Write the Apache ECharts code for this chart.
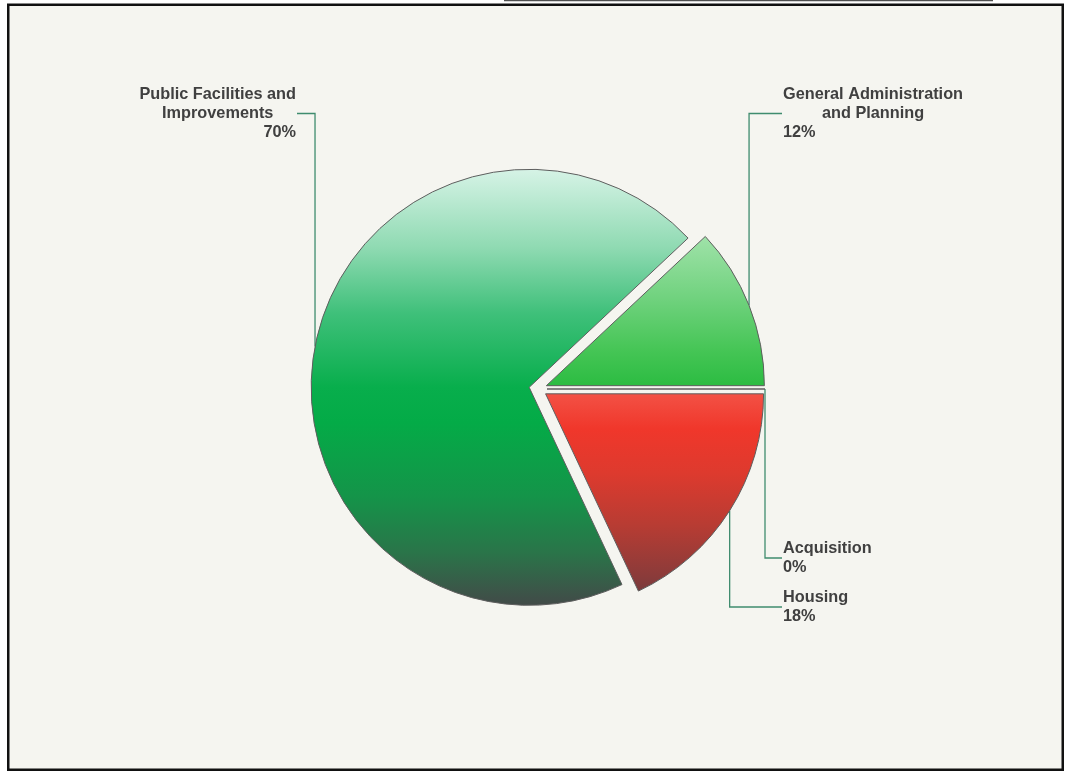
<!DOCTYPE html>
<html>
<head>
<meta charset="utf-8">
<script src="https://cdn.jsdelivr.net/npm/echarts@6/dist/echarts.min.js"></script>
<style>
html,body{margin:0;padding:0;background:#ffffff;}
#c{width:1072px;height:771px;}
</style>
</head>
<body>
<div id="c"></div>
<script>
// ---- data ----
const categories = ['General Administration and Planning', 'Public Facilities and Improvements', 'Housing', 'Acquisition'];
const labelNameLines = [['General Administration', 'and Planning'], ['Public Facilities and', 'Improvements'], ['Housing'], ['Acquisition']];
const values = [12, 70, 18, 0];

// ---- styles ----
const PIE_CX = 538, PIE_CY = 389, PIE_R = 218, EXPLODE = 9;
const gradTop = PIE_CY - PIE_R, gradBottom = PIE_CY + PIE_R;
const sliceStops = [
  [[0, '#c8eecf'], [0.15, '#a2e3ab'], [0.3, '#70d27e'], [0.42, '#45c555'], [0.5, '#2cbc42'], [1, '#2cbc42']],
  [[0, '#d6f3e6'], [0.18, '#8fdab2'], [0.33, '#3fc07a'], [0.5, '#08ae4c'], [0.58, '#04ab47'], [0.75, '#149449'], [0.88, '#2a7449'], [1, '#424a48']],
  [[0, '#f35145'], [0.5, '#f35145'], [0.58, '#f0372b'], [0.68, '#de3a2e'], [0.8, '#b83c33'], [0.92, '#8a3b3a'], [1, '#5e3a40']],
  [[0, '#999999'], [1, '#999999']]
];
// label anchor (x, y) and which side of the anchor the text lies on
const labelAnchors = [
  { x: 783, y: 113.5, align: 'left' },
  { x: 296, y: 113.5, align: 'right' },
  { x: 783, y: 607, align: 'left' },
  { x: 783, y: 558, align: 'left' }
];
const FONT = { fontFamily: '"Liberation Sans", Arial, Helvetica, sans-serif', fontWeight: 'bold', fontSize: 16.3, color: '#404040', lineHeight: 19 };

function grad(stops) {
  return {
    type: 'linear', global: true, x: 0, y: gradTop, x2: 0, y2: gradBottom,
    colorStops: stops.map(s => ({ offset: s[0], color: s[1] }))
  };
}

const sliceData = categories.map((name, i) => ({
  name: name,
  value: values[i],
  selected: true,
  itemStyle: { color: grad(sliceStops[i]) }
}));

const labelData = categories.map((name, i) => ({
  name: name,
  value: values[i],
  label: {
    rich: {
      n: Object.assign({ align: 'center' }, FONT),
      p: Object.assign({ align: labelAnchors[i].align }, FONT)
    }
  }
}));

const common = {
  type: 'pie',
  center: [PIE_CX, PIE_CY],
  radius: PIE_R,
  startAngle: 0,
  clockwise: false,
  avoidLabelOverlap: false,
  stillShowZeroSum: true,
  minShowLabelAngle: 0,
  percentPrecision: 0,
  emphasis: { disabled: true }
};

const chart = echarts.init(document.getElementById('c'), null, { renderer: 'canvas' });
chart.setOption({
  animation: false,
  backgroundColor: '#ffffff',
  graphic: [
    { type: 'rect', z: -10, shape: { x: 8.25, y: 4.75, width: 1054.5, height: 765 },
      style: { fill: '#f5f5f0', stroke: '#111111', lineWidth: 2.5 }, silent: true },
    { type: 'rect', z: -10, shape: { x: 504, y: 0, width: 489, height: 1.3 },
      style: { fill: '#505050' }, silent: true }
  ],
  series: [
    Object.assign({}, common, {
      name: 'slices',
      selectedMode: 'multiple',
      selectedOffset: EXPLODE,
      itemStyle: { borderColor: '#5e5e5e', borderWidth: 1 },
      select: { itemStyle: { borderColor: '#5e5e5e', borderWidth: 1 } },
      label: { show: false },
      labelLine: { show: false },
      data: sliceData
    }),
    Object.assign({}, common, {
      name: 'labels',
      silent: true,
      selectedMode: false,
      itemStyle: { color: 'rgba(0,0,0,0)', borderWidth: 0 },
      label: {
        show: true,
        position: 'outside',
        fontFamily: FONT.fontFamily, fontWeight: 'bold', fontSize: FONT.fontSize, color: FONT.color, lineHeight: FONT.lineHeight,
        formatter: function (p) {
          const names = labelNameLines[p.dataIndex].map(t => '{n|' + t + '}').join('\n');
          return names + '\n{p|' + Math.round(p.percent) + '%}';
        }
      },
      labelLine: {
        show: true, length: 10, length2: 10, smooth: false,
        lineStyle: { color: '#3f8c6e', width: 1.3 }
      },
      labelLayout: function (p) {
        const a = labelAnchors[p.dataIndex];
        const pts = p.labelLinePoints;
        let sx = a.x, sy = a.y;
        if (pts) {
          // push the start point out by the explode offset along its radial direction
          const vx = pts[0][0] - PIE_CX, vy = pts[0][1] - PIE_CY;
          const len = Math.sqrt(vx * vx + vy * vy) || 1;
          sx = pts[0][0] + EXPLODE * vx / len;
          sy = pts[0][1] + EXPLODE * vy / len;
        }
        const lx = a.align === 'left' ? a.x - 1 : a.x + 1;
        return {
          x: a.x, y: a.y, align: a.align, verticalAlign: 'middle',
          labelLinePoints: [[sx, sy], [sx, a.y], [lx, a.y]]
        };
      },
      data: labelData
    })
  ]
});
</script>
</body>
</html>
